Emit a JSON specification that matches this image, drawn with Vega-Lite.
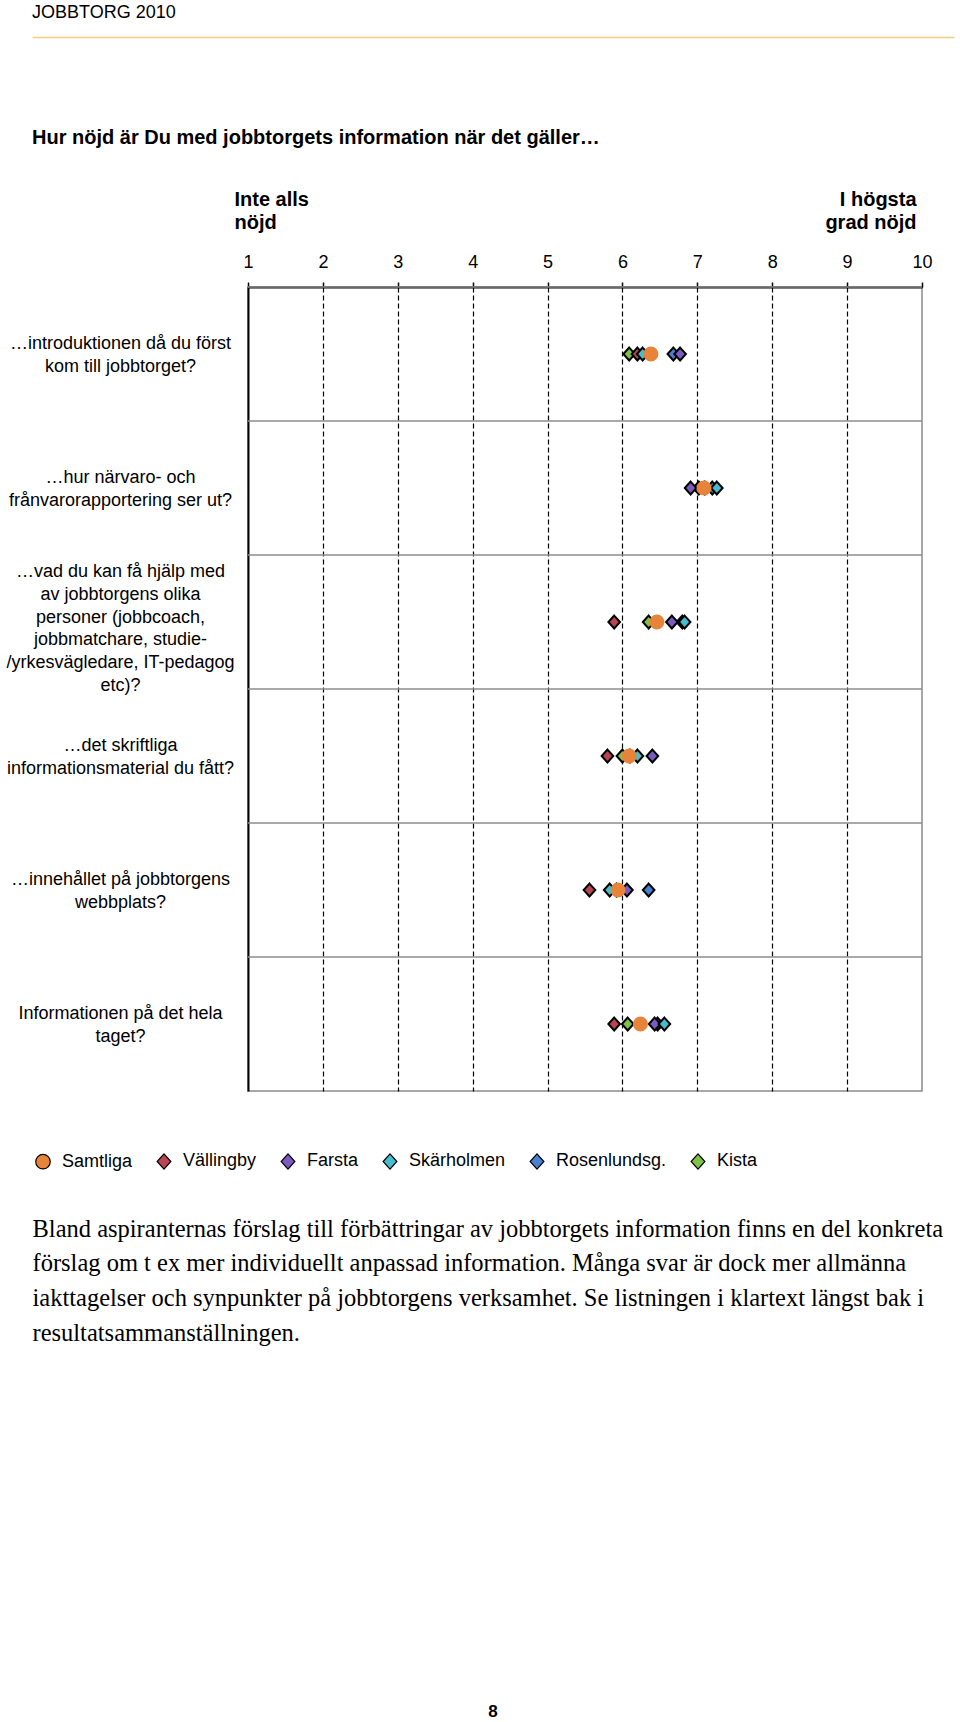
{
  "$schema": "https://vega.github.io/schema/vega-lite/v6.json",
  "background": "white",
  "padding": {"left": 5, "top": 4, "right": 0, "bottom": 0},
  "spacing": 48,
  "config": {
    "font": "Liberation Sans",
    "view": {"stroke": null},
    "title": {"color": "black"},
    "axis": {"labelColor": "black", "titleColor": "black"}
  },
  "datasets": {
    "questions": [
      {"q": "…introduktionen då du först|kom till jobbtorget?"},
      {"q": "…hur närvaro- och|frånvarorapportering ser ut?"},
      {"q": "…vad du kan få hjälp med|av jobbtorgens olika|personer (jobbcoach,|jobbmatchare, studie-|/yrkesvägledare, IT-pedagog|etc)?"},
      {"q": "…det skriftliga|informationsmaterial du fått?"},
      {"q": "…innehållet på jobbtorgens|webbplats?"},
      {"q": "Informationen på det hela|taget?"}
    ],
    "scores": [
      {"q": "…introduktionen då du först|kom till jobbtorget?", "series": "Kista", "value": 6.09},
      {"q": "…introduktionen då du först|kom till jobbtorget?", "series": "Vällingby", "value": 6.2},
      {"q": "…introduktionen då du först|kom till jobbtorget?", "series": "Rosenlundsg.", "value": 6.68},
      {"q": "…introduktionen då du först|kom till jobbtorget?", "series": "Farsta", "value": 6.77},
      {"q": "…introduktionen då du först|kom till jobbtorget?", "series": "Skärholmen", "value": 6.27},
      {"q": "…hur närvaro- och|frånvarorapportering ser ut?", "series": "Kista", "value": 7.1},
      {"q": "…hur närvaro- och|frånvarorapportering ser ut?", "series": "Vällingby", "value": 7.02},
      {"q": "…hur närvaro- och|frånvarorapportering ser ut?", "series": "Rosenlundsg.", "value": 7.2},
      {"q": "…hur närvaro- och|frånvarorapportering ser ut?", "series": "Farsta", "value": 6.91},
      {"q": "…hur närvaro- och|frånvarorapportering ser ut?", "series": "Skärholmen", "value": 7.26},
      {"q": "…vad du kan få hjälp med|av jobbtorgens olika|personer (jobbcoach,|jobbmatchare, studie-|/yrkesvägledare, IT-pedagog|etc)?", "series": "Kista", "value": 6.35},
      {"q": "…vad du kan få hjälp med|av jobbtorgens olika|personer (jobbcoach,|jobbmatchare, studie-|/yrkesvägledare, IT-pedagog|etc)?", "series": "Vällingby", "value": 5.89},
      {"q": "…vad du kan få hjälp med|av jobbtorgens olika|personer (jobbcoach,|jobbmatchare, studie-|/yrkesvägledare, IT-pedagog|etc)?", "series": "Rosenlundsg.", "value": 6.8},
      {"q": "…vad du kan få hjälp med|av jobbtorgens olika|personer (jobbcoach,|jobbmatchare, studie-|/yrkesvägledare, IT-pedagog|etc)?", "series": "Farsta", "value": 6.66},
      {"q": "…vad du kan få hjälp med|av jobbtorgens olika|personer (jobbcoach,|jobbmatchare, studie-|/yrkesvägledare, IT-pedagog|etc)?", "series": "Skärholmen", "value": 6.83},
      {"q": "…det skriftliga|informationsmaterial du fått?", "series": "Kista", "value": 6.0},
      {"q": "…det skriftliga|informationsmaterial du fått?", "series": "Vällingby", "value": 5.8},
      {"q": "…det skriftliga|informationsmaterial du fått?", "series": "Rosenlundsg.", "value": 6.1},
      {"q": "…det skriftliga|informationsmaterial du fått?", "series": "Farsta", "value": 6.4},
      {"q": "…det skriftliga|informationsmaterial du fått?", "series": "Skärholmen", "value": 6.2},
      {"q": "…innehållet på jobbtorgens|webbplats?", "series": "Kista", "value": 5.92},
      {"q": "…innehållet på jobbtorgens|webbplats?", "series": "Vällingby", "value": 5.56},
      {"q": "…innehållet på jobbtorgens|webbplats?", "series": "Rosenlundsg.", "value": 6.35},
      {"q": "…innehållet på jobbtorgens|webbplats?", "series": "Farsta", "value": 6.06},
      {"q": "…innehållet på jobbtorgens|webbplats?", "series": "Skärholmen", "value": 5.83},
      {"q": "Informationen på det hela|taget?", "series": "Kista", "value": 6.07},
      {"q": "Informationen på det hela|taget?", "series": "Vällingby", "value": 5.89},
      {"q": "Informationen på det hela|taget?", "series": "Rosenlundsg.", "value": 6.47},
      {"q": "Informationen på det hela|taget?", "series": "Farsta", "value": 6.43},
      {"q": "Informationen på det hela|taget?", "series": "Skärholmen", "value": 6.56},
      {"q": "…introduktionen då du först|kom till jobbtorget?", "series": "Samtliga", "value": 6.38},
      {"q": "…hur närvaro- och|frånvarorapportering ser ut?", "series": "Samtliga", "value": 7.09},
      {"q": "…vad du kan få hjälp med|av jobbtorgens olika|personer (jobbcoach,|jobbmatchare, studie-|/yrkesvägledare, IT-pedagog|etc)?", "series": "Samtliga", "value": 6.46},
      {"q": "…det skriftliga|informationsmaterial du fått?", "series": "Samtliga", "value": 6.09},
      {"q": "…innehållet på jobbtorgens|webbplats?", "series": "Samtliga", "value": 5.94},
      {"q": "Informationen på det hela|taget?", "series": "Samtliga", "value": 6.24}
    ]
  },
  "vconcat": [
    {
      "width": 674,
      "height": 42,
      "view": {"stroke": null},
      "title": {"text": "JOBBTORG 2010", "anchor": "start", "frame": "group", "dx": -216, "offset": 15, "fontSize": 18, "fontWeight": "normal"},
      "data": {"values": [{"k": 0}]},
      "mark": {"type": "point", "opacity": 0},
      "encoding": {
        "x": {"field": "k", "type": "quantitative",
          "scale": {"domain": [0, 1], "range": [-216, 706]},
          "axis": {"orient": "top", "domainColor": "#f0cf78", "domainWidth": 1.5, "ticks": false, "labels": false, "grid": false, "title": null}}
      }
    },
    {
      "width": 674,
      "height": 804,
      "view": {"stroke": "#8c8c8c", "strokeWidth": 1.5},
      "title": {"text": "Hur nöjd är Du med jobbtorgets information när det gäller…", "anchor": "start", "frame": "group", "dx": -216, "offset": 41, "fontSize": 20, "fontWeight": "bold"},
      "layer": [
        {
          "data": {"name": "questions"},
          "mark": {"type": "rule", "color": "#8c8c8c", "strokeWidth": 1.5},
          "encoding": {"y": {"field": "q", "type": "nominal", "sort": null, "bandPosition": 0}}
        },
        {
          "data": {"name": "scores"},
          "mark": {"type": "point", "filled": true, "opacity": 1, "stroke": "black"},
          "encoding": {
            "x": {"field": "value", "type": "quantitative",
              "scale": {"domain": [1, 10], "nice": false, "zero": false},
              "axis": {"orient": "top", "values": [1, 2, 3, 4, 5, 6, 7, 8, 9, 10], "format": "d", "title": null,
                "labelFontSize": 18, "labelPadding": 11, "labelFlush": false, "labelOverlap": false,
                "tickSize": 5, "tickColor": "black", "tickWidth": 1.5,
                "domainColor": "black", "domainWidth": 2,
                "grid": true, "gridColor": "black", "gridWidth": 1.2, "gridDash": [5, 3],
                "gridOpacity": {"condition": {"test": "datum.value == 1 || datum.value == 10", "value": 0}, "value": 1}}},
            "y": {"field": "q", "type": "nominal", "sort": null,
              "scale": {"type": "band", "paddingInner": 0, "paddingOuter": 0},
              "axis": {"title": null, "domain": true, "domainColor": "black", "domainWidth": 2, "ticks": false, "tickSize": 0, "grid": false,
                "labelAlign": "center", "labelBaseline": "middle", "labelPadding": 128, "labelFontSize": 18, "labelLineHeight": 22.8,
                "labelOffset": {"condition": {"test": "length(split(datum.label, '|')) > 2", "value": -50}, "value": -10},
                "labelLimit": 0, "labelExpr": "split(datum.label, '|')"}},
            "color": {"field": "series", "type": "nominal",
              "scale": {"domain": ["Samtliga", "Vällingby", "Farsta", "Skärholmen", "Rosenlundsg.", "Kista"],
                "range": ["#e8843a", "#b94452", "#7a5cc0", "#47bccc", "#4a80d0", "#80c248"]},
              "legend": {"title": null, "orient": "none", "legendX": -214, "legendY": 1115, "direction": "horizontal",
                "labelFontSize": 18, "labelColor": "black", "labelOffset": 10, "columnPadding": 21, "symbolSize": 210,
                "symbolStrokeColor": "black", "symbolStrokeWidth": 1.2, "padding": 0, "labelLimit": 0,
                "encode": {"symbols": {"update": {"strokeWidth": {"signal": "datum.value === 'Samtliga' ? 0 : 1.2"}, "size": {"signal": "datum.value === 'Samtliga' ? 360 : 210"}}}}}},
            "shape": {"field": "series", "type": "nominal",
              "scale": {"domain": ["Samtliga", "Vällingby", "Farsta", "Skärholmen", "Rosenlundsg.", "Kista"],
                "range": ["circle", "M0,-1.05L0.95,0L0,1.05L-0.95,0Z", "M0,-1.05L0.95,0L0,1.05L-0.95,0Z", "M0,-1.05L0.95,0L0,1.05L-0.95,0Z", "M0,-1.05L0.95,0L0,1.05L-0.95,0Z", "M0,-1.05L0.95,0L0,1.05L-0.95,0Z"]},
              "legend": {"title": null, "orient": "none", "legendX": -214, "legendY": 1115, "direction": "horizontal",
                "labelFontSize": 18, "labelColor": "black", "labelOffset": 10, "columnPadding": 21, "symbolSize": 210,
                "symbolStrokeColor": "black", "symbolStrokeWidth": 1.2, "padding": 0, "labelLimit": 0,
                "encode": {"symbols": {"update": {"strokeWidth": {"signal": "datum.value === 'Samtliga' ? 0 : 1.2"}, "size": {"signal": "datum.value === 'Samtliga' ? 360 : 210"}}}}}},
            "size": {"condition": {"test": "datum.series === 'Samtliga'", "value": 227}, "value": 150},
            "strokeWidth": {"condition": {"test": "datum.series === 'Samtliga'", "value": 0}, "value": 2}
          }
        },
        {
          "data": {"name": "scores"},
          "mark": {"type": "point", "opacity": 0},
          "encoding": {
            "x": {"field": "value", "type": "quantitative",
              "scale": {"domain": [1, 10], "nice": false, "zero": false},
              "axis": {"orient": "top", "values": [1, 10], "title": null,
                "labelExpr": "datum.value == 1 ? ['Inte alls', 'nöjd'] : ['I högsta', 'grad nöjd']",
                "labelAlign": {"condition": {"test": "datum.value == 1", "value": "left"}, "value": "right"},
                "labelOffset": {"condition": {"test": "datum.value == 1", "value": -14}, "value": -6},
                "labelFontSize": 20, "labelFontWeight": "bold", "labelLineHeight": 23, "labelPadding": 78,
                "labelFlush": false, "labelOverlap": false, "labelBound": false,
                "domain": false, "ticks": false, "tickSize": 0, "grid": false}}
          }
        }
      ],
      "resolve": {"axis": {"x": "independent"}}
    },
    {
      "width": 674,
      "height": 70,
      "view": {"stroke": null},
      "title": {"text": "8", "orient": "bottom", "anchor": "middle", "frame": "group", "dx": -92, "offset": 359, "fontSize": 17, "fontWeight": "bold"},
      "data": {"values": [{"k": 0}]},
      "mark": {"type": "point", "opacity": 0},
      "encoding": {
        "x": {"field": "k", "type": "quantitative",
          "scale": {"domain": [0, 1], "range": [-216, 706]},
          "axis": {"orient": "bottom", "domain": false, "ticks": false, "labels": false, "grid": false,
            "title": ["Bland aspiranternas förslag till förbättringar av jobbtorgets information finns en del konkreta", "förslag om t ex mer individuellt anpassad information. Många svar är dock mer allmänna", "iakttagelser och synpunkter på jobbtorgens verksamhet. Se listningen i klartext längst bak i", "resultatsammanställningen."],
            "titleAnchor": "start", "titleAlign": "left", "titleBaseline": "top", "titleFont": "Liberation Serif", "titleFontSize": 24.5,
            "titleFontWeight": "normal", "titleLineHeight": 34.8, "titlePadding": 7, "titleLimit": 2000}}
      }
    }
  ]
}
